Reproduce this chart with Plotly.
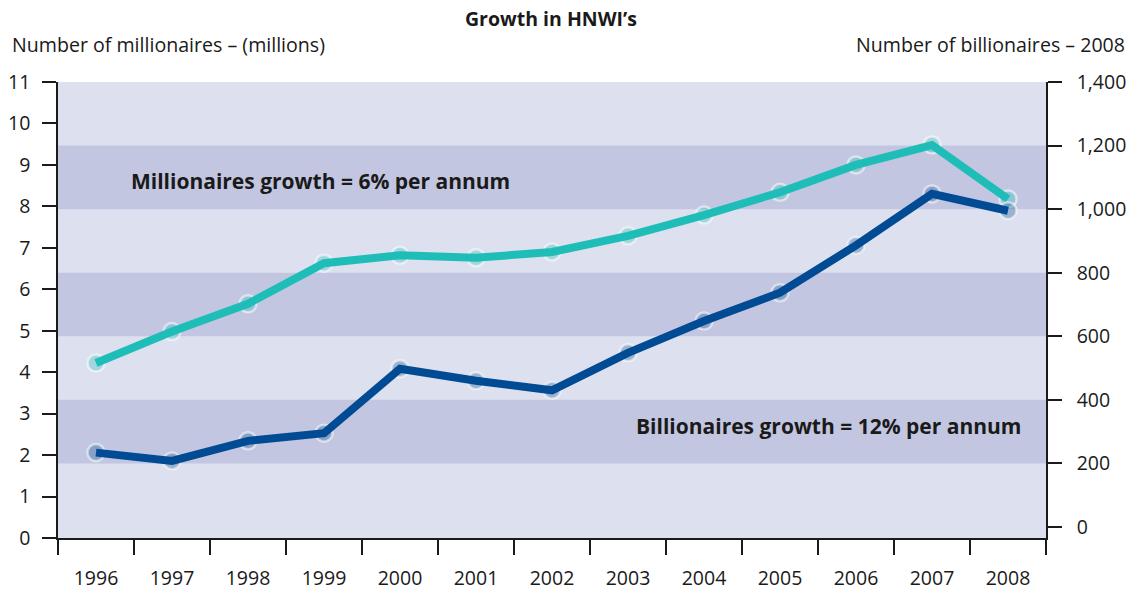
import plotly.graph_objects as go

years = ["1996", "1997", "1998", "1999", "2000", "2001", "2002",
         "2003", "2004", "2005", "2006", "2007", "2008"]
millionaires = [4.22, 4.98, 5.65, 6.63, 6.82, 6.76, 6.90, 7.29, 7.79, 8.34, 9.00, 9.48, 8.18]
billionaires = [234, 208, 271, 295, 498, 460, 430, 548, 648, 737, 886, 1048, 995]
left_ticks = list(range(0, 12))
right_ticks = [0, 200, 400, 600, 800, 1000, 1200, 1400]
band_ranges = [(200, 400), (600, 800), (1000, 1200)]

TEAL = "#1fbdb8"
BLUE = "#004b93"
FONT = "Open Sans"

fig = go.Figure()

def add_series(vals, color, fill, axis):
    fig.add_trace(go.Scatter(
        x=years, y=vals, yaxis=axis, mode="markers",
        marker=dict(size=17, color=fill, line=dict(color="rgba(255,255,255,0.55)", width=2.5)),
        hoverinfo="skip", showlegend=False))
    fig.add_trace(go.Scatter(
        x=years, y=vals, yaxis=axis, mode="lines",
        line=dict(color=color, width=8), showlegend=False))

add_series(millionaires, TEAL, "rgba(31,189,184,0.30)", "y")
add_series(billionaires, BLUE, "rgba(0,75,147,0.30)", "y2")

shapes = []
for lo, hi in band_ranges:
    shapes.append(dict(type="rect", xref="paper", yref="y2", x0=0, x1=1, y0=lo, y1=hi,
                       fillcolor="#c2c6e0", line=dict(width=0), layer="below"))

fig.update_layout(
    width=1136, height=593,
    margin=dict(l=58, r=90, t=82, b=55, autoexpand=False),
    paper_bgcolor="white", plot_bgcolor="#dde0ee",
    font=dict(family=FONT, size=19.5, color="#1a1a1a"),
    shapes=shapes,
    xaxis=dict(type="category", tickson="boundaries", ticks="outside", ticklen=15,
               tickcolor="#1a1a1a", tickwidth=1.5, showline=True, linecolor="#1a1a1a",
               linewidth=1.5, showgrid=False, ticklabelstandoff=22,
               tickfont=dict(size=19.5), range=[-0.5, 12.5], fixedrange=True),
    yaxis=dict(range=[0, 11], tickvals=left_ticks, ticks="outside", ticklen=14,
               tickcolor="#1a1a1a", tickwidth=1.5, showline=True, linecolor="#1a1a1a",
               linewidth=1.5, showgrid=False, zeroline=False, ticklabelstandoff=8,
               tickfont=dict(size=19.5)),
    yaxis2=dict(range=[-34.6, 1400], tickvals=right_ticks, tickformat=",",
                overlaying="y", side="right", ticks="outside", ticklen=14,
                tickcolor="#1a1a1a", tickwidth=1.5, showline=True, linecolor="#1a1a1a",
                linewidth=1.5, showgrid=False, zeroline=False, ticklabelstandoff=11,
                tickfont=dict(size=19.5)),
    annotations=[
        dict(text="<b>Growth in HNWI’s</b>", xref="paper", yref="paper",
             x=(551 - 58) / 988, y=1 + (82 - 18) / 456, xanchor="center", yanchor="middle",
             showarrow=False, font=dict(size=19.5)),
        dict(text="Number of millionaires – (millions)", xref="paper", yref="paper",
             x=(10 - 58) / 988, y=1 + (82 - 45) / 456, xanchor="left", yanchor="middle",
             showarrow=False, font=dict(size=19.6)),
        dict(text="Number of billionaires – 2008", xref="paper", yref="paper",
             x=(1127 - 58) / 988, y=1 + (82 - 45) / 456, xanchor="right", yanchor="middle",
             showarrow=False, font=dict(size=19.6)),
        dict(text="<b>Millionaires growth = 6% per annum</b>", xref="x", yref="y",
             x=0.434, y=8.61, xanchor="left", yanchor="middle", showarrow=False,
             font=dict(size=21)),
        dict(text="<b>Billionaires growth = 12% per annum</b>", xref="x", yref="y",
             x=7.08, y=2.70, xanchor="left", yanchor="middle", showarrow=False,
             font=dict(size=21)),
    ],
)

fig.write_html("out.html")
